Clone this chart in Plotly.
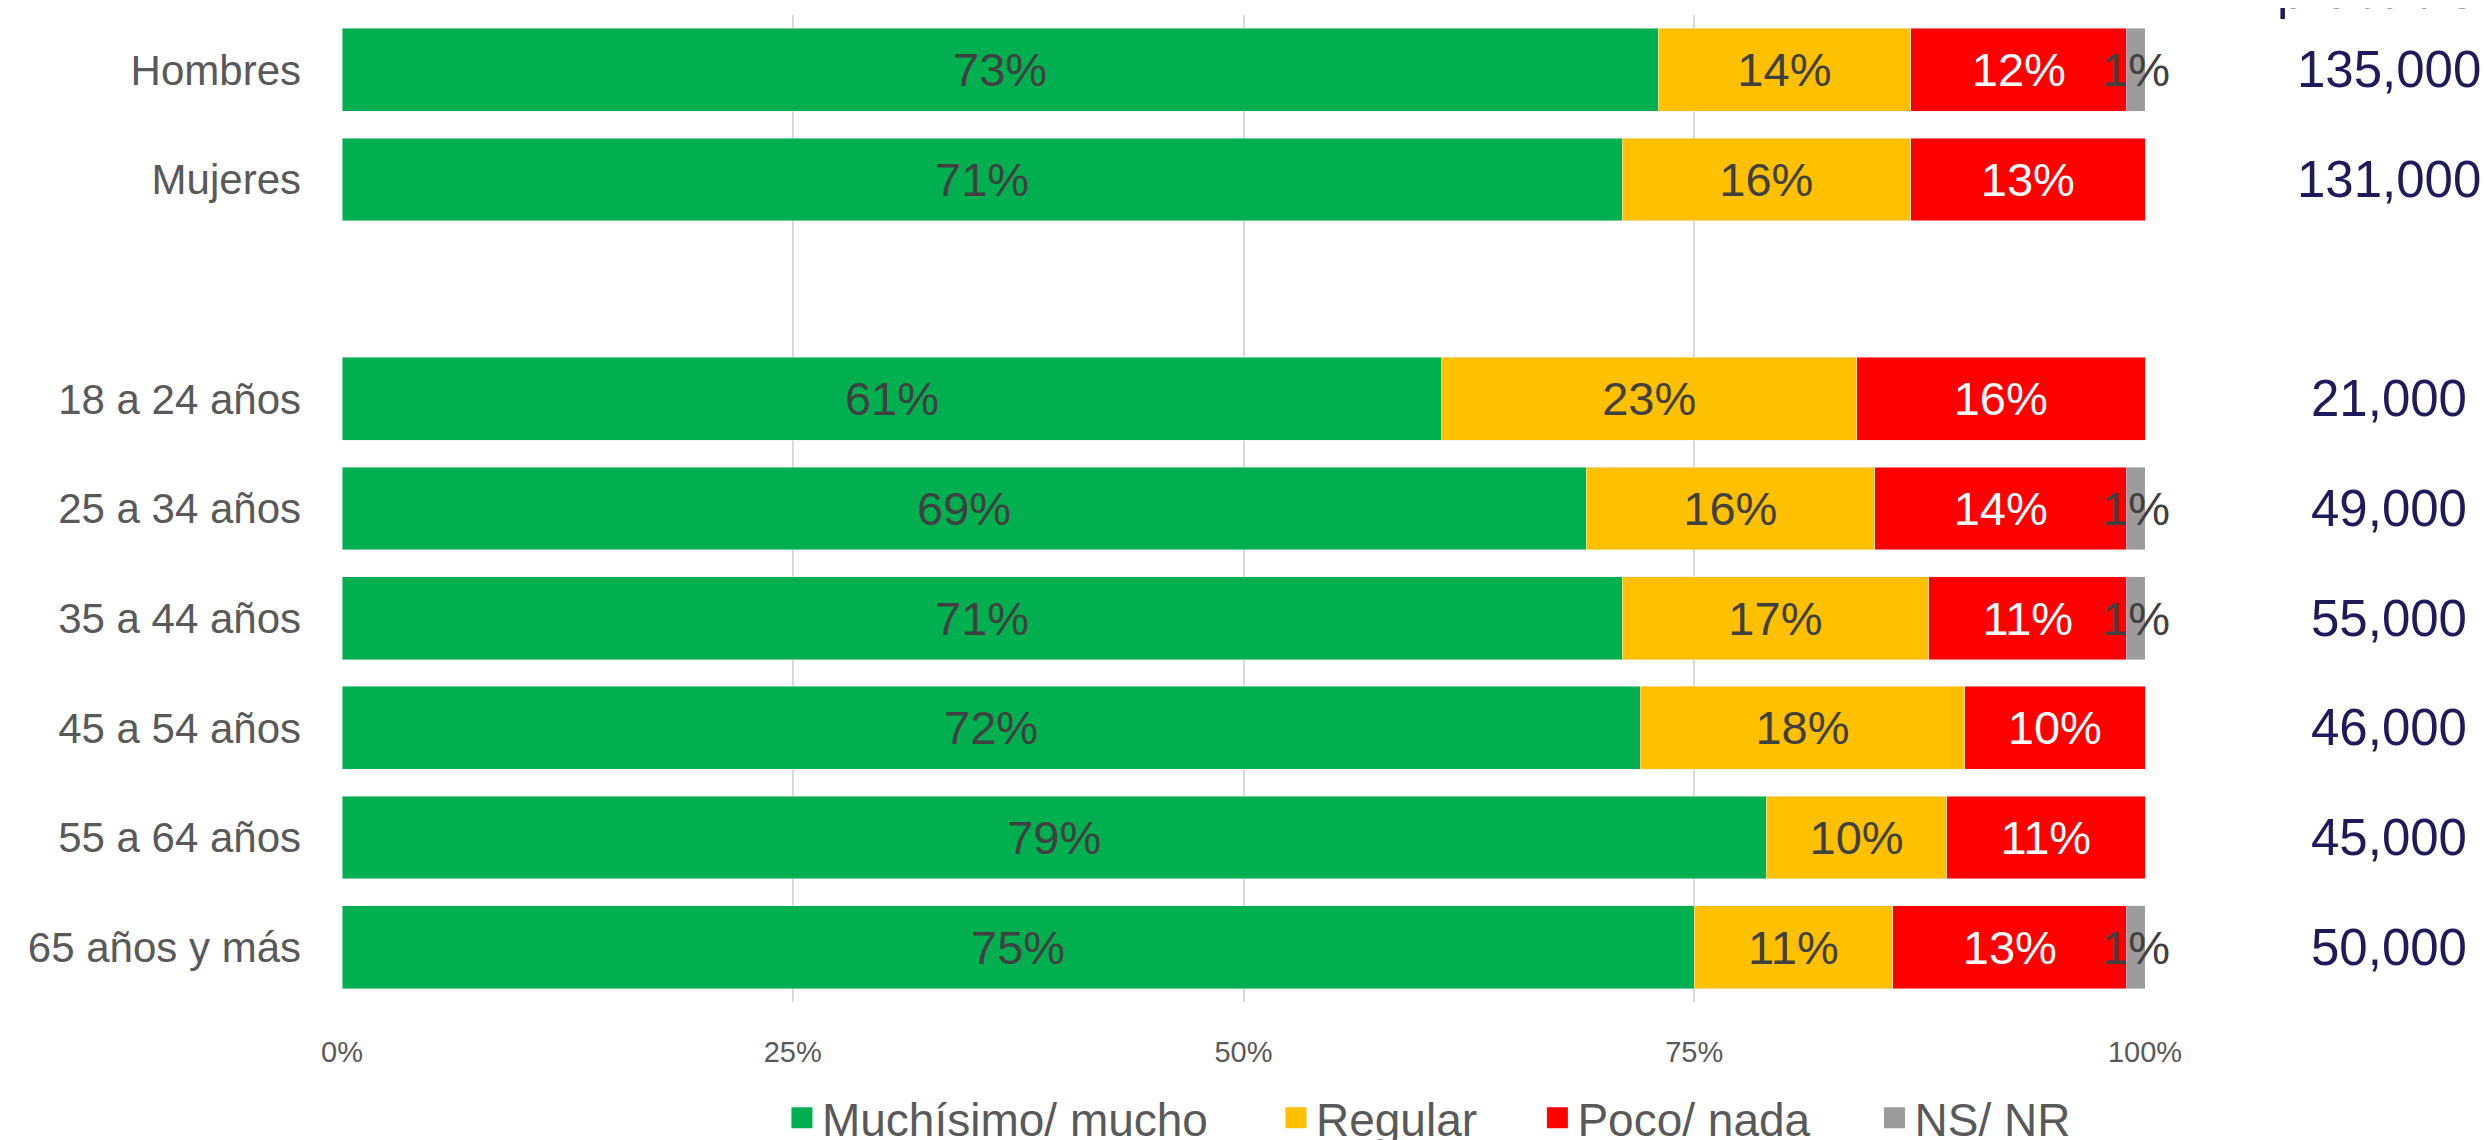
"""Stacked horizontal bar chart of opinion by sex and age group."""

import plotly.graph_objects as go

CATEGORIES = [
    "Hombres",
    "Mujeres",
    "18 a 24 años",
    "25 a 34 años",
    "35 a 44 años",
    "45 a 54 años",
    "55 a 64 años",
    "65 años y más",
]
# blank row separating sex from age groups
ROW_ORDER = CATEGORIES[:2] + [" "] + CATEGORIES[2:]

MUCHO = [73, 71, 61, 69, 71, 72, 79, 75]
REGULAR = [14, 16, 23, 16, 17, 18, 10, 11]
POCO = [12, 13, 16, 14, 11, 10, 11, 13]
NSNR = [1, 0, 0, 1, 1, 0, 0, 1]

TOTALS = [135000, 131000, 21000, 49000, 55000, 46000, 45000, 50000]

X_TICKS = [0, 25, 50, 75, 100]
X_TICK_LABELS = ["0%", "25%", "50%", "75%", "100%"]

FONT = "Arial, Liberation Sans, sans-serif"
GREY_TEXT = "#595959"
LABEL_TEXT = "#404040"
NAVY = "#1F1A5C"

# name, values, bar colour, label colour, legend id, legend x (paper)
SERIES = [
    ("Muchísimo/ mucho", MUCHO, "#00B050", LABEL_TEXT, "legend", 0.244),
    ("Regular", REGULAR, "#FFC000", LABEL_TEXT, "legend2", 0.518),
    ("Poco/ nada", POCO, "#FF0000", "white", "legend3", 0.663),
    ("NS/ NR", NSNR, "#9C9C9C", LABEL_TEXT, "legend4", 0.850),
]

fig = go.Figure()
for name, values, color, text_color, legend_id, _ in SERIES:
    fig.add_trace(
        go.Bar(
            x=values,
            y=CATEGORIES,
            orientation="h",
            name=name,
            marker={"color": color},
            text=[f"{v}%" if v else "" for v in values],
            textposition="inside",
            insidetextanchor="middle",
            textangle=0,
            textfont={"family": FONT, "size": 47, "color": text_color},
            cliponaxis=False,
            showlegend=False,
            hovertemplate=f"{name}<br>%{{y}}: %{{x}}%<extra></extra>",
        )
    )
    # legend-only entry so the swatch can be a big square
    fig.add_trace(
        go.Scatter(
            x=[None],
            y=[None],
            mode="markers",
            name=name,
            legend=legend_id,
            marker={
                "symbol": "square",
                "size": 16,
                "color": color,
                "line": {"color": color, "width": 5},
            },
            hoverinfo="skip",
        )
    )

for cat, total in zip(CATEGORIES, TOTALS):
    fig.add_annotation(
        x=1.1353,
        xref="paper",
        y=cat,
        yref="y",
        text=f"{total:,}",
        showarrow=False,
        xanchor="center",
        yanchor="middle",
        font={"family": FONT, "size": 51, "color": NAVY},
    )

# header above the totals column, mostly cut off at the top edge
fig.add_annotation(
    x=1.1353,
    xref="paper",
    y=1.025,
    yref="paper",
    text="probables",
    showarrow=False,
    xanchor="center",
    yanchor="middle",
    font={"family": FONT, "size": 51, "color": NAVY},
)

legend_base = {
    "orientation": "h",
    "xanchor": "left",
    "y": -0.1175,
    "yanchor": "middle",
    "font": {"size": 46, "color": GREY_TEXT},
    "bgcolor": "rgba(0,0,0,0)",
}
legends = {
    legend_id: dict(legend_base, x=legend_x)
    for _, _, _, _, legend_id, legend_x in SERIES
}

fig.update_layout(
    barmode="stack",
    bargap=0.245,
    width=2492,
    # taller than the window so the legend never pushes the plot area up
    height=1180,
    # the page body adds 8px on the top and left
    margin={"l": 334, "r": 355, "t": 7, "b": 186},
    plot_bgcolor="white",
    paper_bgcolor="white",
    font={"family": FONT, "color": GREY_TEXT},
    uniformtext={"mode": "show", "minsize": 47},
    xaxis={
        "range": [0, 100],
        "tickvals": X_TICKS,
        "ticktext": X_TICK_LABELS,
        "showgrid": True,
        "gridcolor": "#D9D9D9",
        "gridwidth": 2,
        "zeroline": False,
        "showline": False,
        "tickfont": {"size": 29, "color": GREY_TEXT},
        "ticklabelstandoff": 30,
    },
    yaxis={
        "categoryorder": "array",
        "categoryarray": ROW_ORDER,
        "tickvals": ROW_ORDER,
        "autorange": "reversed",
        "showgrid": False,
        "zeroline": False,
        "showline": False,
        "tickfont": {"size": 42, "color": GREY_TEXT},
        "ticklabelstandoff": 40,
    },
    showlegend=True,
    **legends,
)

fig.write_html("out.html")
